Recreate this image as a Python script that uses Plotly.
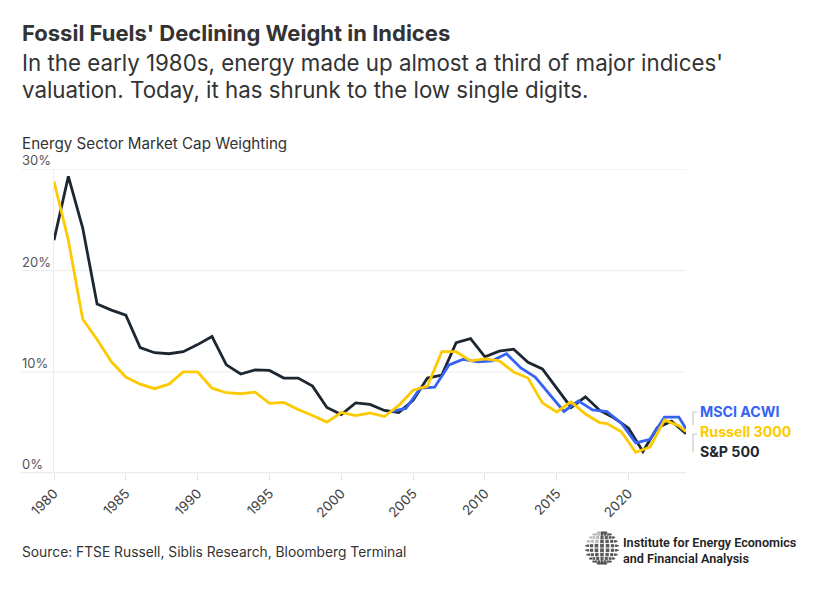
import numpy as np
import plotly.graph_objects as go

# ---------------- data ----------------
sp_years = list(range(1980, 2025))
sp500 = [23.0, 29.3, 24.2, 16.7, 16.1, 15.6, 12.4, 11.9, 11.8, 12.0,
         12.7, 13.5, 10.7, 9.8, 10.2, 10.15, 9.4, 9.4, 8.6, 6.5,
         5.8, 6.95, 6.8, 6.2, 6.0, 7.2, 9.4, 9.7, 12.9, 13.3,
         11.5, 12.05, 12.25, 10.95, 10.3, 8.4, 6.5, 7.55, 6.2, 5.45,
         4.45, 2.15, 4.5, 5.15, 3.9]

ru_years = list(range(1980, 2019)) + [2018.5, 2019.5, 2020.5, 2021.5, 2022.5, 2023.5, 2024]
russell3000 = [28.8, 23.0, 15.2, 13.2, 11.0, 9.5, 8.8, 8.35, 8.8, 10.0,
               10.0, 8.4, 7.95, 7.85, 8.0, 6.9, 7.0, 6.3, 5.7, 5.05,
               6.0, 5.7, 5.95, 5.6, 6.7, 8.2, 8.6, 12.0, 12.0, 11.1,
               11.3, 11.1, 10.0, 9.4, 6.95, 6.05, 7.05, 5.85, 5.0,
               4.9, 4.1, 2.07, 2.6, 5.25, 4.7, 4.1]

ms_years = [2003.5, 2004.5, 2005.5, 2006.5, 2007.5, 2008.5, 2009.5, 2010.5,
            2011.5, 2012.5, 2013.5, 2014.5, 2015.5, 2016.5, 2017.5, 2018.5,
            2019.5, 2020.5, 2021.5, 2022.5, 2023.5, 2024]
msci_acwi = [6.1, 6.4, 8.4, 8.5, 10.7, 11.25, 11.0, 11.1,
             11.8, 10.4, 9.5, 7.8, 6.1, 7.15, 6.25, 6.1,
             4.95, 3.0, 3.35, 5.55, 5.55, 4.4]

x_ticks = list(range(1980, 2021, 5))
y_ticks = [0, 10, 20, 30]
y_tick_labels = ["0%", "10%", "20%", "30%"]

series_names = ["MSCI ACWI", "Russell 3000", "S&P 500"]

# ---------------- styles ----------------
C_DARK = "#1d2732"
C_BLUE = "#3763f4"
C_YEL = "#fdca00"
FONT = "Inter"

OFF = 8               # page body margin
W, H = 816 - OFF, 595 - OFF


def px(x):
    return (x - OFF) / W


def py(y):
    return 1 - (y - OFF) / H


fig = go.Figure()

fig.add_trace(go.Scatter(x=sp_years, y=sp500, mode="lines", name=series_names[2],
                         line=dict(color=C_DARK, width=2.8), cliponaxis=False))
fig.add_trace(go.Scatter(x=ms_years, y=msci_acwi, mode="lines", name=series_names[0],
                         line=dict(color=C_BLUE, width=2.8), cliponaxis=False))
fig.add_trace(go.Scatter(x=ru_years, y=russell3000, mode="lines", name=series_names[1],
                         line=dict(color=C_YEL, width=2.8), cliponaxis=False))

# ---- logo globe (decorative) on a hidden axis ----
gx, gy, gs, gc = [], [], [], []
for lat in np.arange(-72, 73, 16):
    for lon in np.arange(-80, 81, 20):
        la, lo = np.radians(lat), np.radians(lon)
        X = np.cos(la) * np.sin(lo)
        Y = np.sin(la)
        Z = np.cos(la) * np.cos(lo)
        if Z <= 0.08:
            continue
        gx.append(X)
        gy.append(Y)
        gs.append(1.2 + 2.6 * Z)
        gc.append("#a0a0a0" if (X < -0.1 and Y > 0.3) else "#151515")
fig.add_trace(go.Scatter(x=gx, y=gy, mode="markers", xaxis="x2", yaxis="y2",
                         marker=dict(symbol="square", size=gs, color=gc, line=dict(width=0)),
                         hoverinfo="skip"))

# ---------------- layout ----------------
shapes = []
for v in y_ticks:
    shapes.append(dict(type="line", xref="paper", yref="y", x0=px(21), x1=px(686),
                       y0=v, y1=v, layer="below",
                       line=dict(color="#e4e4e4" if v == 0 else "#ececec", width=2 if v == 0 else 1)))
# label connectors
for (x0, y0, x1, y1) in [(693, 412, 693, 425), (693, 412, 697, 412),
                         (693, 434, 693, 452), (693, 434, 697, 434)]:
    shapes.append(dict(type="line", xref="paper", yref="paper", x0=px(x0), x1=px(x1),
                       y0=py(y0), y1=py(y1), line=dict(color="#bdbdbd", width=1)))


def txt(text, x, y, size, color="#333333", family=FONT, weight=None, xanchor="left"):
    f = dict(family=family, size=size, color=color)
    if weight:
        f["weight"] = weight
    return dict(text=text, x=px(x), y=py(y), xref="paper", yref="paper", xanchor=xanchor,
                yanchor="middle", showarrow=False, font=f, borderpad=0, align="left")


ann = []
ann.append(txt("<b>Fossil Fuels' Declining Weight in Indices</b>", 21, 33, 22))
ann.append(txt("In the early 1980s, energy made up almost a third of major indices'", 21, 63, 22.3))
ann.append(txt("valuation. Today, it has shrunk to the low single digits.", 21, 89, 22.3))
ann.append(txt("Energy Sector Market Cap Weighting", 21, 144, 15.2))
for v, lab in zip(y_ticks, y_tick_labels):
    ann.append(dict(text=lab, x=px(21), y=v, xref="paper", yref="y", xanchor="left",
                    yanchor="bottom", yshift=0, showarrow=False, borderpad=0,
                    font=dict(family=FONT, size=13, color="#555555")))
for name, col, yy in [(series_names[0], C_BLUE, 411), (series_names[1], C_YEL, 431),
                      (series_names[2], C_DARK, 451)]:
    ann.append(txt(f"<b>{name}</b>", 699, yy, 14.2, color=col))
ann.append(txt("Source: FTSE Russell, Siblis Research, Bloomberg Terminal", 21, 552, 13.8))
ann.append(txt("Institute for Energy Economics<br>and Financial Analysis", 622, 550.5, 12.6,
               color="#222222", family="Roboto", weight=600))

fig.update_layout(
    template="none",
    width=W, height=H,
    margin=dict(l=0, r=0, t=0, b=0, pad=0),
    paper_bgcolor="white", plot_bgcolor="white",
    showlegend=False,
    xaxis=dict(domain=[px(54), px(686)], range=[1980, 2024], tickvals=x_ticks,
               ticktext=[str(t) for t in x_ticks], ticks="outside", ticklen=6,
               tickcolor="#e4e4e4", tickwidth=1, tickangle=-45,
               tickfont=dict(family=FONT, size=13.5, color="#444444"),
               showgrid=False, zeroline=False, showline=False, automargin=False,
               fixedrange=True),
    yaxis=dict(domain=[py(473.3), py(169.3)], range=[0, 30], showticklabels=False,
               showgrid=False, zeroline=False, showline=True, linecolor="#ececec",
               linewidth=1, ticks="", automargin=False, fixedrange=True),
    xaxis2=dict(domain=[px(584), px(620)], range=[-1.1, 1.1], visible=False, fixedrange=True),
    yaxis2=dict(domain=[py(566), py(530)], range=[-1.1, 1.1], visible=False, fixedrange=True),
    shapes=shapes,
    annotations=ann,
    font=dict(family=FONT),
)

fig.write_html("out.html")
